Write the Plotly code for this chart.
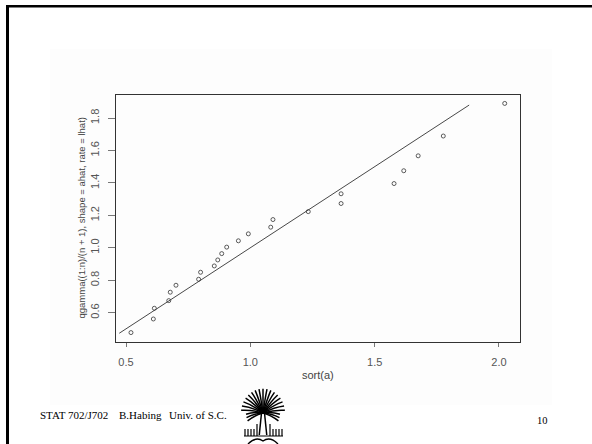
import plotly.graph_objects as go
import math

# ---- data ----
sorted_a = [0.520, 0.610, 0.614, 0.672, 0.678, 0.701, 0.792, 0.800, 0.855, 0.869,
            0.885, 0.905, 0.952, 0.992, 1.082, 1.091, 1.233, 1.365, 1.365, 1.578,
            1.617, 1.675, 1.776, 2.023]
gamma_q = [0.477, 0.561, 0.627, 0.674, 0.726, 0.769, 0.806, 0.849, 0.888, 0.925,
           0.964, 1.004, 1.043, 1.086, 1.127, 1.174, 1.223, 1.273, 1.333, 1.396,
           1.475, 1.567, 1.689, 1.890]
ref_line_x = [0.473, 1.880]
ref_line_y = [0.473, 1.880]
x_ticks = [0.5, 1.0, 1.5, 2.0]
x_tick_labels = ["0.5", "1.0", "1.5", "2.0"]
y_ticks = [0.6, 0.8, 1.0, 1.2, 1.4, 1.6, 1.8]
y_tick_labels = ["0.6", "0.8", "1.0", "1.2", "1.4", "1.6", "1.8"]
footer_texts = ["STAT 702/J702", "B.Habing", "Univ. of S.C."]
page_number = "10"

W, H = 592, 444
L, R, T, B = 116, 520, 95, 342  # plot box in pixels

def px(x):
    return (x - L) / (R - L)

def py(y):
    return (B - y) / (B - T)

fig = go.Figure()
fig.add_trace(go.Scatter(x=ref_line_x, y=ref_line_y, mode="lines",
                         line=dict(color="#333333", width=0.9), hoverinfo="skip"))
fig.add_trace(go.Scatter(x=sorted_a, y=gamma_q, mode="markers",
                         marker=dict(symbol="circle-open", size=4,
                                     line=dict(color="#333333", width=0.8),
                                     color="#333333")))

shapes = []
# faint graphic background
shapes.append(dict(type="rect", xref="paper", yref="paper", layer="below",
                   x0=px(50), x1=px(552), y0=py(49), y1=py(405),
                   fillcolor="#fdfdfd", line=dict(width=0)))
# slide frame
shapes.append(dict(type="line", xref="paper", yref="paper",
                   x0=px(6), x1=px(592), y0=py(6.2), y1=py(6.2),
                   line=dict(color="black", width=2.6)))
shapes.append(dict(type="line", xref="paper", yref="paper",
                   x0=px(7.5), x1=px(7.5), y0=py(5), y1=py(444),
                   line=dict(color="black", width=3)))

# simple palmetto-like logo
cx, cy = 263, 413
n_fronds = 23
for k in range(n_fronds):
    ang = math.radians(-25 + k * 230 / (n_fronds - 1))
    r = 22 if 0 < ang < math.pi else 17
    x_end = cx + r * math.cos(ang)
    y_end = cy - r * math.sin(ang) * 1.1
    xm = cx + r * 0.55 * math.cos(ang)
    ym = cy - r * 0.55 * math.sin(ang) * 1.1 - 2
    shapes.append(dict(type="path", xref="paper", yref="paper",
                       path=f"M {px(cx)},{py(cy)} Q {px(xm)},{py(ym)} {px(x_end)},{py(y_end)}",
                       line=dict(color="black", width=1.5)))
for dx in (-1.5, 1.5):
    shapes.append(dict(type="line", xref="paper", yref="paper",
                       x0=px(cx + dx), x1=px(cx + dx * 2.5), y0=py(cy), y1=py(435),
                       line=dict(color="black", width=1.5)))
for gx in (245, 248, 251, 254, 257, 270, 273, 276, 279, 282):
    top = 424 if gx in (257, 270) else 429
    shapes.append(dict(type="line", xref="paper", yref="paper",
                       x0=px(gx), x1=px(gx), y0=py(top), y1=py(436),
                       line=dict(color="black", width=1.2)))
shapes.append(dict(type="line", xref="paper", yref="paper",
                   x0=px(244), x1=px(283), y0=py(436), y1=py(436),
                   line=dict(color="black", width=1.2)))
shapes.append(dict(type="path", xref="paper", yref="paper",
                   path=f"M {px(248)},{py(444)} Q {px(256)},{py(436)} {px(263)},{py(441)} Q {px(270)},{py(436)} {px(278)},{py(444)}",
                   line=dict(color="black", width=1.4)))

annotations = []
annotations.append(dict(xref="paper", yref="paper", x=px(318), y=py(383),
                        text="sort(a)", showarrow=False,
                        font=dict(family="Liberation Sans", size=11, color="#444444")))
annotations.append(dict(xref="paper", yref="paper", x=px(73), y=py(218),
                        text="qgamma((1:n)/(n + 1), shape = ahat, rate = lhat)",
                        textangle=-90, showarrow=False,
                        font=dict(family="Liberation Sans", size=9.5, color="#444444")))
foot_x = [38, 117, 167]
for t, xx in zip(footer_texts, foot_x):
    annotations.append(dict(xref="paper", yref="paper", x=px(xx), y=py(423),
                            xanchor="left", text=t, showarrow=False,
                            font=dict(family="Liberation Serif", size=11, color="black")))
annotations.append(dict(xref="paper", yref="paper", x=px(550), y=py(428),
                        text=page_number, showarrow=False,
                        font=dict(family="Liberation Serif", size=10.5, color="black")))

axis_common = dict(showgrid=False, zeroline=False, showline=True, mirror=True,
                   linecolor="#333333", linewidth=1, ticks="outside",
                   tickcolor="#777777", tickwidth=1,
                   tickfont=dict(family="Liberation Sans", size=11, color="#555555"))

fig.update_layout(
    width=W, height=H, showlegend=False,
    margin=dict(l=L, r=W - R, t=T, b=H - B, pad=0),
    paper_bgcolor="white", plot_bgcolor="rgba(0,0,0,0)",
    xaxis=dict(range=[0.4598, 2.0845], tickvals=x_ticks, ticktext=x_tick_labels,
               ticklen=4, ticklabelstandoff=6, **axis_common),
    yaxis=dict(range=[0.419, 1.942], tickvals=y_ticks, ticktext=y_tick_labels,
               ticklen=7, tickangle=-90, ticklabelstandoff=5, **axis_common),
    shapes=shapes, annotations=annotations,
)
fig.write_html("out.html", config={"displayModeBar": False},
               post_script="document.body.style.margin='0';document.body.style.overflow='hidden';")
